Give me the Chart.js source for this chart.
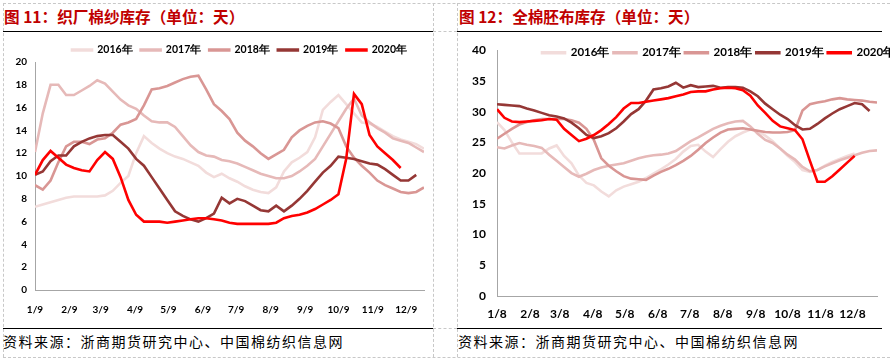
<!DOCTYPE html>
<html>
<head>
<meta charset="utf-8">
<script src="https://cdn.jsdelivr.net/npm/chart.js@4.4.1/dist/chart.umd.min.js"></script>
<style>
  body { margin: 0; background: #fff; }
  #page { position: relative; width: 890px; height: 361px; overflow: hidden; }
  .dash-v { position: absolute; width: 0; border-left: 1px dashed #c8c8c8; }
  .dash-h { position: absolute; height: 0; border-top: 1px dashed #c8c8c8; }
  .rule { position: absolute; height: 0; border-top: 1px solid #000; }
  .title { position: absolute; top: 5px; font-family: "Noto Sans CJK SC", sans-serif; font-weight: bold; font-size: 15.6px; color: #c00000; white-space: nowrap; }
  .source { position: absolute; top: 331px; font-family: "Noto Sans CJK SC", sans-serif; font-size: 14px; letter-spacing: 1.5px; color: #000; white-space: nowrap; }
  .box { position: absolute; top: 32px; height: 295px; }
</style>
</head>
<body>
<div id="page">
  <div class="dash-h" style="left:3px; top:3px; width:887px;"></div>
  <div class="dash-h" style="left:3px; top:357px; width:887px;"></div>
  <div class="dash-v" style="left:3px; top:3px; height:354px;"></div>
  <div class="dash-v" style="left:433px; top:3px; height:354px;"></div>
  <div class="dash-v" style="left:457px; top:3px; height:354px;"></div>
  <div class="dash-h" style="left:433px; top:31px; width:24px;"></div>
  <div class="dash-h" style="left:433px; top:328px; width:24px;"></div>

  <div class="title" style="left:4px;">图 11：织厂棉纱库存（单位：天）</div>
  <div class="title" style="left:459px;">图 12：全棉胚布库存（单位：天）</div>
  <div class="rule" style="left:3px; top:31px; width:430px;"></div>
  <div class="rule" style="left:457px; top:31px; width:425px;"></div>
  <div class="rule" style="left:3px; top:328px; width:430px;"></div>
  <div class="rule" style="left:457px; top:328px; width:425px;"></div>

  <div class="box" style="left:3px; width:430px;"><canvas id="yarnChart"></canvas></div>
  <div class="box" style="left:458px; width:432px;"><canvas id="fabricChart"></canvas></div>

  <div class="source" style="left:3px;">资料来源：浙商期货研究中心、中国棉纺织信息网</div>
  <div class="source" style="left:458px;">资料来源：浙商期货研究中心、中国棉纺织信息网</div>
</div>

<script>
// series names and colours
const seriesNames = ['2016年', '2017年', '2018年', '2019年', '2020年'];
const seriesColors = ['#f2dcdb', '#e6b9b8', '#d99694', '#953735', '#ff0000'];

// x axis: days from first date of the year, one tick per month
const monthTickDays = [0, 31, 59, 90, 120, 151, 181, 212, 243, 273, 304, 334];
const yarnTickLabels = ['1/9', '2/9', '3/9', '4/9', '5/9', '6/9', '7/9', '8/9', '9/9', '10/9', '11/9', '12/9'];
const fabricTickLabels = ['1/8', '2/8', '3/8', '4/8', '5/8', '6/8', '7/8', '8/8', '9/8', '10/8', '11/8', '12/8'];

// 图11 织厂棉纱库存 (天), weekly from 1/9
const yarn2016 = [7.3, 7.5, 7.7, 7.9, 8.1, 8.2, 8.2, 8.2, 8.2, 8.3, 8.7, 9.4, 10.0, 12.0, 13.5, 12.9, 12.4, 12.0, 11.7, 11.5,
  11.2, 10.9, 10.3, 9.9, 10.2, 9.8, 9.5, 9.1, 8.8, 8.6, 8.5, 9.0, 10.4, 11.2, 11.6, 12.1, 13.4, 15.8, 16.5, 17.1,
  16.3, 15.5, 14.7, 14.6, 14.3, 13.9, 13.5, 13.2, 13.0, 12.8, 12.4];
const yarn2017 = [12.1, 15.5, 18.0, 18.0, 17.1, 17.1, 17.5, 17.9, 18.4, 18.1, 17.4, 16.7, 16.2, 15.9, 15.3, 14.8, 14.7, 14.7, 14.3, 13.5,
  12.7, 12.1, 11.8, 11.7, 11.4, 11.3, 11.1, 10.8, 10.5, 10.2, 10.0, 9.8, 9.8, 10.0, 10.4, 10.9, 11.5, 12.6, 13.7, 14.8,
  15.9, 16.8, 15.3, 14.7, 14.2, 13.8, 13.3, 13.1, 12.9, 12.5, 12.1];
const yarn2018 = [9.2, 8.8, 9.6, 11.2, 12.6, 13.0, 13.0, 12.8, 13.2, 13.3, 13.8, 14.5, 14.7, 15.0, 16.2, 17.6, 17.7, 17.9, 18.2, 18.5,
  18.7, 18.8, 17.6, 16.3, 15.7, 15.0, 13.8, 13.1, 12.6, 12.0, 11.5, 11.9, 12.3, 13.4, 14.0, 14.4, 14.7, 14.8, 14.6, 14.2,
  12.6, 11.6, 10.9, 10.3, 9.6, 9.2, 8.9, 8.6, 8.5, 8.6, 9.0];
const yarn2019 = [10.1, 10.4, 11.3, 11.8, 11.8, 12.6, 13.0, 13.3, 13.5, 13.6, 13.6, 13.0, 12.4, 11.5, 10.9, 9.9, 8.9, 7.9, 6.9, 6.5,
  6.2, 6.0, 6.3, 6.7, 8.1, 7.6, 8.0, 7.8, 7.4, 7.0, 6.9, 7.4, 6.9, 7.4, 8.0, 8.7, 9.5, 10.3, 10.9, 11.7,
  11.6, 11.5, 11.3, 11.1, 11.0, 10.6, 10.1, 9.6, 9.6, 10.1];
const yarn2020 = [10.1, 11.4, 12.2, 11.6, 11.0, 10.7, 10.5, 10.4, 11.4, 12.1, 11.5, 9.9, 7.9, 6.6, 6.0, 6.0, 6.0, 5.9, 6.0, 6.1,
  6.2, 6.3, 6.3, 6.2, 6.1, 5.9, 5.8, 5.8, 5.8, 5.8, 5.8, 5.9, 6.3, 6.5, 6.6, 6.8, 7.1, 7.5, 7.9, 8.4,
  11.5, 17.2, 16.3, 13.6, 12.6, 12.0, 11.4, 10.7];

// 图12 全棉胚布库存 (天), weekly from 1/8
const fabric2016 = [28.3, 27.0, 25.0, 23.2, 23.2, 23.2, 23.2, 24.0, 24.5, 22.8, 21.6, 19.6, 18.4, 18.0, 17.0, 16.2, 17.2, 17.8, 18.2, 18.6,
  19.2, 19.9, 20.6, 21.4, 22.3, 23.5, 24.4, 24.6, 23.5, 22.6, 23.9, 25.1, 26.0, 26.6, 27.1, 26.8, 26.1, 25.2, 24.0, 22.8,
  21.8, 20.5, 20.2, 20.5, 21.2, 21.8, 22.3, 22.8, 23.2];
const fabric2017 = [24.2, 24.0, 24.5, 24.9, 24.6, 24.4, 24.1, 23.0, 22.0, 21.0, 20.0, 19.4, 19.9, 20.5, 20.9, 21.2, 21.4, 21.6, 22.0, 22.4,
  22.7, 22.9, 23.0, 23.2, 23.6, 24.4, 25.2, 25.8, 26.5, 27.2, 27.7, 28.1, 28.4, 28.5, 27.6, 26.4, 25.4, 24.9, 24.0, 23.0,
  22.2, 21.0, 20.3, 20.5, 21.1, 21.6, 22.1, 22.5, 22.9, 23.3, 23.6, 23.7];
const fabric2018 = [25.6, 26.4, 27.2, 27.9, 28.3, 28.6, 28.8, 28.8, 28.8, 28.8, 28.6, 28.2, 27.2, 25.4, 22.4, 21.2, 20.3, 19.5, 19.1, 19.0,
  18.9, 19.6, 20.2, 20.7, 21.3, 22.0, 22.8, 23.8, 24.9, 25.8, 26.6, 27.1, 27.2, 27.3, 27.1, 26.9, 26.7, 26.6, 26.6, 26.7,
  27.0, 30.2, 31.2, 31.5, 31.7, 32.0, 32.2, 32.0, 31.9, 31.8, 31.6, 31.5];
const fabric2019 = [31.2, 31.1, 31.0, 30.9, 30.5, 30.2, 29.8, 29.4, 29.2, 28.9, 28.2, 27.3, 26.2, 25.7, 26.0, 26.5, 27.3, 28.4, 29.6, 30.4,
  31.8, 33.6, 33.8, 34.1, 34.7, 33.9, 34.3, 34.0, 34.1, 34.2, 33.9, 34.0, 34.0, 33.9, 33.3, 32.5, 31.3, 30.4, 29.5, 28.8,
  27.8, 27.1, 27.2, 28.0, 28.9, 29.7, 30.4, 30.9, 31.4, 31.2, 30.1];
const fabric2020 = [30.4, 29.0, 28.4, 28.3, 28.4, 28.5, 28.6, 28.8, 28.7, 27.2, 26.2, 25.2, 25.6, 26.2, 27.0, 28.0, 29.1, 30.5, 31.4, 31.4,
  31.6, 31.8, 32.0, 32.2, 32.5, 32.8, 33.2, 33.3, 33.3, 33.6, 33.8, 33.9, 33.8, 33.5, 32.6, 31.0, 29.8, 28.5, 27.6, 27.3,
  27.0, 25.5, 22.0, 18.6, 18.6, 19.5, 20.6, 21.7, 22.8];

// puts the legend where the picture has it, without taking room from the plot
const legendPlacer = {
    id: 'legendPlacer',
    beforeInit(chart) {
        const legend = chart.legend;
        const fit = legend.fit;
        legend.fit = function() {
            fit.call(this);
            this.height = 0;
        };
    },
    afterLayout(chart, args, opts) {
        const legend = chart.legend;
        const pad = legend.options.labels.padding;
        const size = legend.options.labels.font.size;
        legend.left = opts.x - pad - 2;
        legend.right = opts.x + legend.lineWidths[0] + 2;
        legend.top = opts.cy - pad - size / 2;
        legend.bottom = legend.top + size + pad * 2;
    }
};

function weekly(values) {
    return values.map((v, i) => ({ x: i * 7, y: v }));
}

function makeDatasets(list) {
    return list.map((values, i) => ({
        label: seriesNames[i],
        data: weekly(values),
        borderColor: seriesColors[i],
        backgroundColor: seriesColors[i],
        borderWidth: 2.6,
        pointRadius: 0,
        tension: 0,
        order: list.length - i
    }));
}

function createChart(id, datasets, cfg) {
    const ctx = document.getElementById(id).getContext('2d');
    new Chart(ctx, {
        type: 'line',
        data: { datasets: datasets },
        plugins: [legendPlacer],
        options: {
            responsive: true,
            maintainAspectRatio: false,
            animation: false,
            layout: { padding: cfg.padding },
            plugins: {
                legend: {
                    position: 'top',
                    labels: {
                        boxWidth: cfg.boxWidth,
                        boxHeight: 1,
                        padding: cfg.legendGap,
                        color: '#000',
                        font: { family: 'Lato', weight: 'bold', size: cfg.legendFont },
                        sort: (a, b) => a.datasetIndex - b.datasetIndex
                    }
                },
                legendPlacer: cfg.legendPos,
                tooltip: { enabled: false }
            },
            scales: {
                x: {
                    type: 'linear',
                    min: 0,
                    max: cfg.xMax,
                    grid: { display: false, drawTicks: false },
                    border: { display: true, color: '#a6a6a6', width: 1 },
                    afterBuildTicks: scale => {
                        scale.ticks = monthTickDays.map(d => ({ value: d }));
                    },
                    afterFit: scale => { scale.height = cfg.xHeight; },
                    ticks: {
                        autoSkip: false,
                        maxRotation: 0,
                        padding: cfg.xPad,
                        color: '#000',
                        font: { family: 'Lato', weight: 'bold', size: cfg.tickFont },
                        callback: (value, index) => cfg.tickLabels[index]
                    }
                },
                y: {
                    min: 0,
                    max: cfg.yMax,
                    grid: { display: false, drawTicks: false },
                    border: { display: true, color: '#a6a6a6', width: 1 },
                    afterFit: scale => { scale.width = cfg.yWidth; },
                    ticks: {
                        stepSize: cfg.yStep,
                        padding: cfg.yPad,
                        color: '#000',
                        font: { family: 'Lato', weight: 'bold', size: cfg.tickFont }
                    }
                }
            }
        }
    });
}

createChart('yarnChart', makeDatasets([yarn2016, yarn2017, yarn2018, yarn2019, yarn2020]), {
    padding: { top: 30, right: 9, left: 0, bottom: 0 },
    xMax: 350, yMax: 20, yStep: 2,
    xHeight: 37, yWidth: 32, xPad: 14, yPad: 8,
    tickFont: 10, legendFont: 10.5, boxWidth: 20, legendGap: 8,
    tickLabels: yarnTickLabels,
    legendPos: { x: 69, cy: 18 }
});

createChart('fabricChart', makeDatasets([fabric2016, fabric2017, fabric2018, fabric2019, fabric2020]), {
    padding: { top: 15, right: 13, left: 0, bottom: 0 },
    xMax: 357, yMax: 40, yStep: 5,
    xHeight: 31, yWidth: 39, xPad: 11, yPad: 11,
    tickFont: 12, legendFont: 11.5, boxWidth: 23, legendGap: 4,
    tickLabels: fabricTickLabels,
    legendPos: { x: 84, cy: 20.7 }
});
</script>
</body>
</html>
